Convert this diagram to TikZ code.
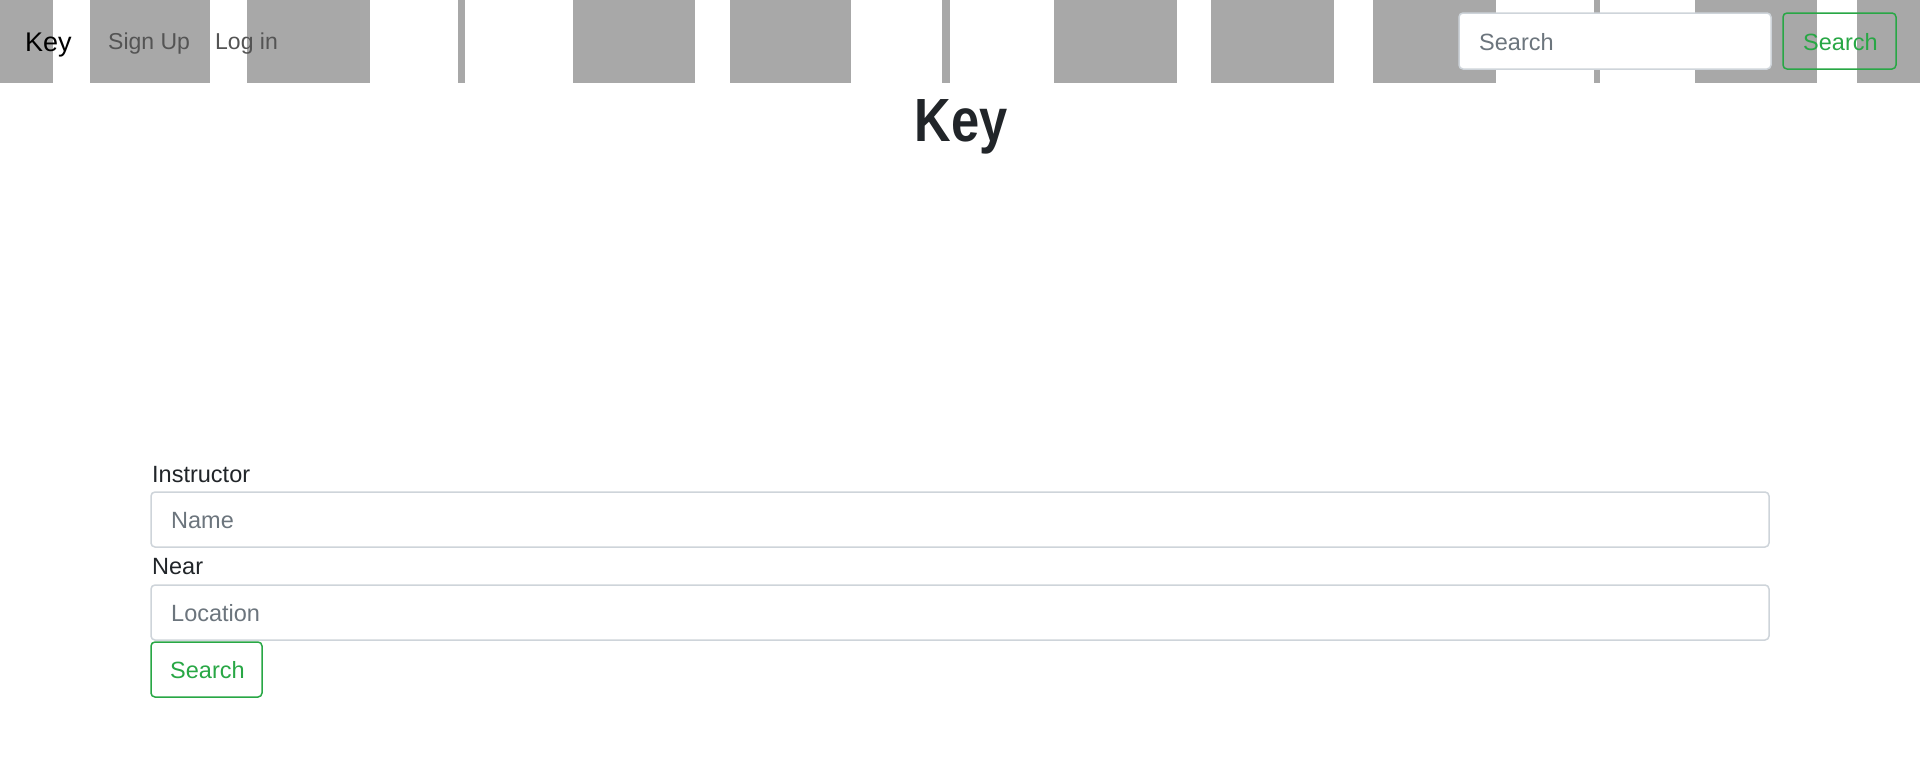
\documentclass[tikz,border=0pt]{standalone}
\usepackage{fontspec}
\setmainfont{Liberation Sans}
\definecolor{hdrgray}{HTML}{A8A8A8}
\definecolor{txtdark}{HTML}{212529}
\definecolor{navtxt}{HTML}{545454}
\definecolor{placeh}{HTML}{6C757D}
\definecolor{bordr}{HTML}{CED4DA}
\definecolor{bsgreen}{HTML}{28A745}
\tikzset{
  stripe/.style={fill=hdrgray, draw=none},
  inputbox/.style={draw=bordr, fill=white, line width=1.5pt, rounded corners=4pt},
  greenbtn/.style={draw=bsgreen, line width=1.5pt, rounded corners=4pt},
  txt/.style={inner sep=0pt, anchor=base west},
  bodyfont/.style={font=\fontsize{23.5}{28}\selectfont},
}
\begin{document}
\begin{tikzpicture}[x=1pt,y=-1pt]
\useasboundingbox (0,0) rectangle (1920,779);
\fill[white] (0,0) rectangle (1920,779);
% header stripes
\foreach \a/\b in {0/53, 90/210, 247/370, 458/465, 573/695, 730/851, 942/950, 1054/1177, 1211/1334, 1373/1496, 1594/1600, 1695/1817, 1857/1920}
  \path[stripe] (\a,0) rectangle (\b,83);
% nav
\node[txt, text=black, font=\fontsize{27}{32}\selectfont] (brand) at (25,51) {Key};
\node[txt, text=navtxt, font=\fontsize{23}{28}\selectfont] (signup) at (108,49) {Sign Up};
\node[txt, text=navtxt, font=\fontsize{23}{28}\selectfont] (login) at (215,49) {Log in};
% header search
\draw[inputbox] (1459,13) rectangle (1771,69);
\node[txt, text=placeh, bodyfont] (hsearch) at (1479,50) {Search};
\draw[greenbtn] (1783,13) rectangle (1896,69);
\node[txt, text=bsgreen, bodyfont] (hbtn) at (1803,50) {Search};
% title
\node[inner sep=0pt, anchor=base, text=txtdark, font=\fontsize{61}{70}\bfseries\selectfont] (title) at (961,141) {\scalebox{0.83}[1]{Key}};
% form
\node[txt, text=txtdark, bodyfont] (lblinst) at (152,482) {Instructor};
\draw[inputbox] (151,492) rectangle (1769,547);
\node[txt, text=placeh, bodyfont] (name) at (171,528) {Name};
\node[txt, text=txtdark, bodyfont] (lblnear) at (152,574) {Near};
\draw[inputbox] (151,585) rectangle (1769,640);
\node[txt, text=placeh, bodyfont] (loc) at (171,621) {Location};
\draw[greenbtn] (151,642) rectangle (262,697);
\node[txt, text=bsgreen, bodyfont] (fbtn) at (170,678) {Search};
\end{tikzpicture}
\end{document}
